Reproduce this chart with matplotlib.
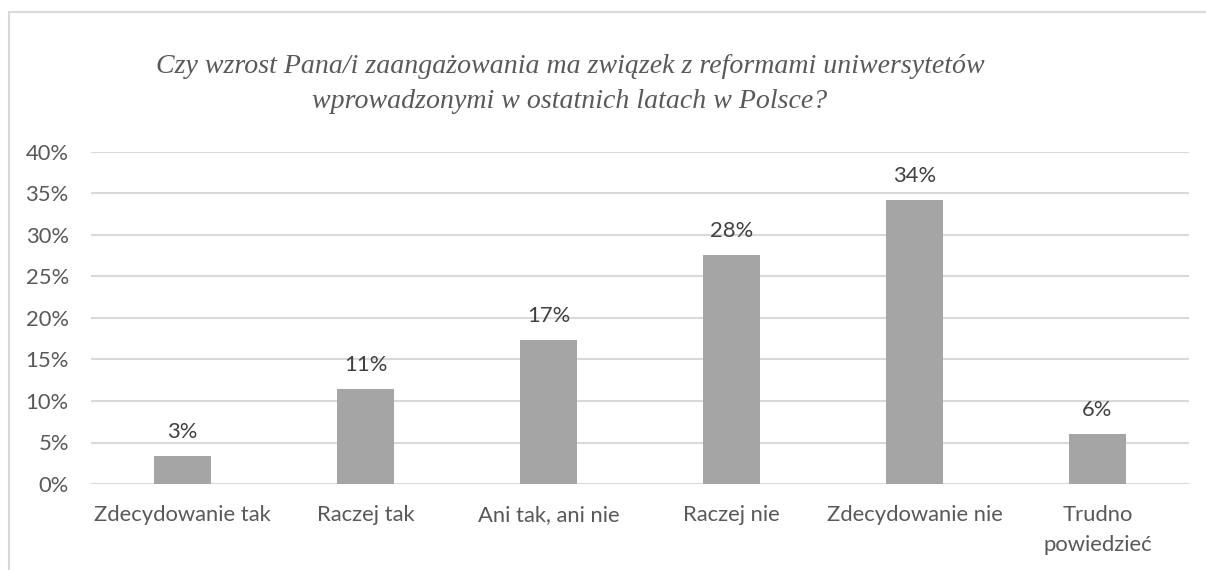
import matplotlib
matplotlib.use("Agg")
import matplotlib.pyplot as plt
from matplotlib.patches import Rectangle
from matplotlib.ticker import FuncFormatter

# survey answers and their shares (%)
answers = ["Zdecydowanie tak", "Raczej tak", "Ani tak, ani nie", "Raczej nie",
           "Zdecydowanie nie", "Trudno\npowiedzieć"]
shares = [3.4, 11.4, 17.4, 27.6, 34.2, 6.0]
yticks = [0, 5, 10, 15, 20, 25, 30, 35, 40]
title = ("Czy wzrost Pana/i zaangażowania ma związek z reformami uniwersytetów\n"
         "wprowadzonymi w ostatnich latach w Polsce?")

W, H = 1206, 570
fig = plt.figure(figsize=(W / 100, H / 100), dpi=100)
fig.patch.set_facecolor("white")

# thin frame around the chart area
fig.add_artist(Rectangle((9 / W, -0.1), 1.2, 1 - 12 / H + 0.1, transform=fig.transFigure,
                         fill=False, edgecolor="#d9d9d9", linewidth=1.5))

ax = fig.add_axes([91 / W, 1 - 484 / H, (1189 - 91) / W, (484 - 152) / H])
x = list(range(len(answers)))
bars = ax.bar(x, shares, width=0.31, color="#a5a5a5", zorder=3)

ax.set_xlim(-0.5, len(answers) - 0.5)
ax.set_ylim(0, 40)
ax.set_yticks(yticks)
ax.yaxis.set_major_formatter(FuncFormatter(lambda v, p: f"{v:.0f}%"))
ax.set_xticks(x)
ax.set_xticklabels(answers, linespacing=1.65)
ax.grid(axis="y", color="#d9d9d9", linewidth=1.5, zorder=0)
for s in ax.spines.values():
    s.set_visible(False)
ax.tick_params(axis="both", length=0, labelsize=15.8, labelcolor="#595959")
ax.tick_params(axis="x", pad=15)
ax.tick_params(axis="y", pad=16)
for lab in ax.get_xticklabels() + ax.get_yticklabels():
    lab.set_fontfamily("Lato")

for b, v in zip(bars, shares):
    ax.annotate(f"{v:.0f}%", (b.get_x() + b.get_width() / 2, v), xytext=(0, 10),
                textcoords="offset points", ha="center", va="bottom",
                fontsize=15.8, color="#404040", family="Lato")

fig.text(570 / W, 1 - 84 / H, title, ha="center", va="center", fontsize=20.1,
         style="italic", family="Liberation Serif", color="#595959", linespacing=1.5)

fig.savefig("out.png", dpi=100)
